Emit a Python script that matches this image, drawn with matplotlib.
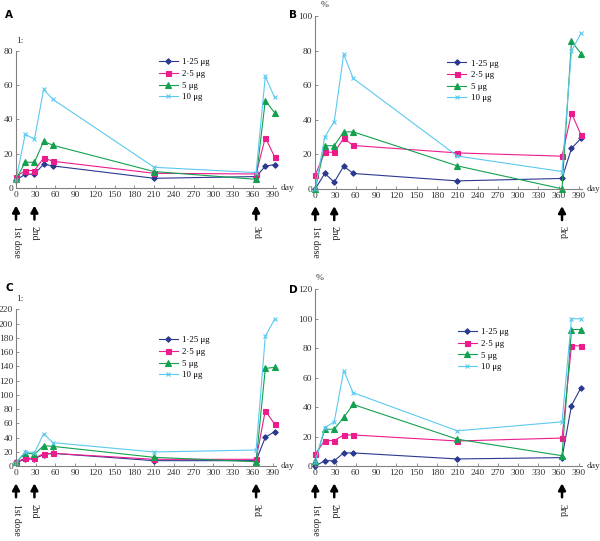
import matplotlib
matplotlib.use("Agg")
import matplotlib.pyplot as plt
from matplotlib.transforms import offset_copy

plt.rcParams['font.family'] = ['Liberation Serif', 'DejaVu Serif']

# days of sampling
days = [0, 14, 28, 42, 56, 210, 365, 379, 393]
dose_days = [0, 28, 365]
dose_labels = ["1st dose", "2nd", "3rd"]
groups = ["1·25 μg", "2·5 μg", "5 μg", "10 μg"]

# panel A (titre 1:)
a_125 = [4.8, 8.1, 8.3, 14.0, 13.0, 5.8, 6.8, 12.8, 13.8]
a_25 = [6.8, 10.3, 10.3, 17.6, 15.7, 8.7, 8.3, 29.5, 18.4]
a_5 = [5.3, 15.1, 15.1, 27.3, 25.0, 9.7, 5.2, 51.0, 44.0]
a_10 = [5.0, 31.4, 28.5, 57.5, 51.7, 12.2, 9.1, 65.0, 52.9]

# panel B (%)
b_125 = [0, 8.9, 3.9, 13.1, 8.9, 4.6, 6.0, 23.4, 29.2]
b_25 = [8.1, 21.2, 21.2, 29.2, 25.1, 20.8, 18.9, 43.8, 31.3]
b_5 = [0, 25.0, 25.0, 33.0, 33.0, 13.3, 0, 85.5, 78.4]
b_10 = [0, 30.0, 39.0, 78.0, 64.0, 19.0, 10.0, 80.0, 90.0]

# panel C (titre 1:)
c_125 = [5.1, 9.4, 10.3, 15.9, 17.8, 7.5, 7.5, 40.3, 48.2]
c_25 = [5.6, 10.8, 10.8, 17.3, 17.8, 9.4, 9.4, 77.7, 59.0]
c_5 = [5.0, 18.7, 16.4, 28.6, 27.6, 12.2, 6.0, 137.0, 138.6]
c_10 = [4.7, 20.0, 18.7, 45.4, 32.8, 19.7, 22.5, 182.0, 206.0]

# panel D (%)
d_125 = [0, 3.6, 3.6, 8.9, 8.9, 4.8, 5.7, 41.1, 53.2]
d_25 = [8.2, 17.3, 17.3, 21.1, 21.1, 17.0, 19.0, 81.6, 81.6]
d_5 = [3.4, 25.0, 25.0, 33.0, 41.8, 18.2, 7.0, 92.7, 92.7]
d_10 = [3.0, 26.0, 30.0, 64.8, 49.8, 23.9, 30.0, 100.0, 100.0]

colors = ["#2b3990", "#ec1c8c", "#13a150", "#5bc9f0"]
markers = ["D", "s", "^", "x"]
msizes = [2.8, 3.6, 3.8, 3.0]

W, H = 600, 541
fig = plt.figure(figsize=(6.0, 5.41), dpi=100)

panels = [
    ("A", [0.0267, 0.652, 0.433, 0.2544], [a_125, a_25, a_5, a_10], 80, "1:", 0.0, (0.535, 0.97), (5, 15)),
    ("B", [0.5255, 0.651, 0.445, 0.319], [b_125, b_25, b_5, b_10], 100, "%", 0.02, (0.48, 0.77), (289, 15)),
    ("C", [0.0267, 0.1386, 0.433, 0.2896], [c_125, c_25, c_5, c_10], 220, "1:", 0.0, (0.535, 0.85), (5, 288)),
    ("D", [0.5255, 0.1386, 0.445, 0.3266], [d_125, d_25, d_5, d_10], 120, "%", 0.0, (0.52, 0.80), (289, 290)),
]

for letter, pos, series, ymax, unit, unit_dx, leg_xy, let_px in panels:
    ax = fig.add_axes(pos)
    for vals, col, mk, ms, lab in zip(series, colors, markers, msizes, groups):
        ax.plot(days, vals, color=col, marker=mk, ms=ms, lw=0.8, mew=0.8,
                label=lab, clip_on=False)
    ax.set_xlim(0, 395)
    ax.set_ylim(0, ymax)
    ax.set_xticks(range(0, 391, 30))
    ax.set_yticks(range(0, ymax + 1, 20))
    for s in ["top", "right"]:
        ax.spines[s].set_visible(False)
    for s in ["left", "bottom"]:
        ax.spines[s].set_color("#808080")
        ax.spines[s].set_linewidth(0.8)
    ax.tick_params(direction="in", length=2.5, width=0.6, color="#808080",
                   labelsize=6.8, labelcolor="#333333", pad=2)
    ax.patch.set_visible(False)

    ax.text(1.018, 0, "day", transform=ax.transAxes, fontsize=6.8,
            va="center", ha="left", color="#333333")
    ax.text(unit_dx, 1.04, unit, transform=ax.transAxes, fontsize=6.8,
            va="bottom", ha="left", color="#333333")

    # dose arrows under the axis
    head = offset_copy(ax.get_xaxis_transform(), fig=fig, x=0, y=-12.5, units="points")
    tail = offset_copy(ax.get_xaxis_transform(), fig=fig, x=0, y=-22.5, units="points")
    txt = offset_copy(ax.get_xaxis_transform(), fig=fig, x=0, y=-27, units="points")
    for d, lab in zip(dose_days, dose_labels):
        ax.annotate("", xy=(d, 0), xycoords=head, xytext=(d, 0), textcoords=tail,
                    arrowprops=dict(arrowstyle="-|>,head_length=0.55,head_width=0.3",
                                    color="black", lw=1.8,
                                    mutation_scale=7, shrinkA=0, shrinkB=0))
        ax.text(d, 0, lab, transform=txt, rotation=-90, va="top", ha="center",
                fontsize=7, color="#222222")

    ax.legend(loc="upper left", bbox_to_anchor=leg_xy, frameon=False,
              fontsize=6.3, handlelength=2.2, handletextpad=0.5,
              labelspacing=0.4, borderaxespad=0)

    fig.text(let_px[0] / W, 1 - let_px[1] / H, letter, family="DejaVu Sans",
             fontweight="bold", fontsize=7.5, va="center", ha="left")

fig.savefig("out.png", dpi=100)
